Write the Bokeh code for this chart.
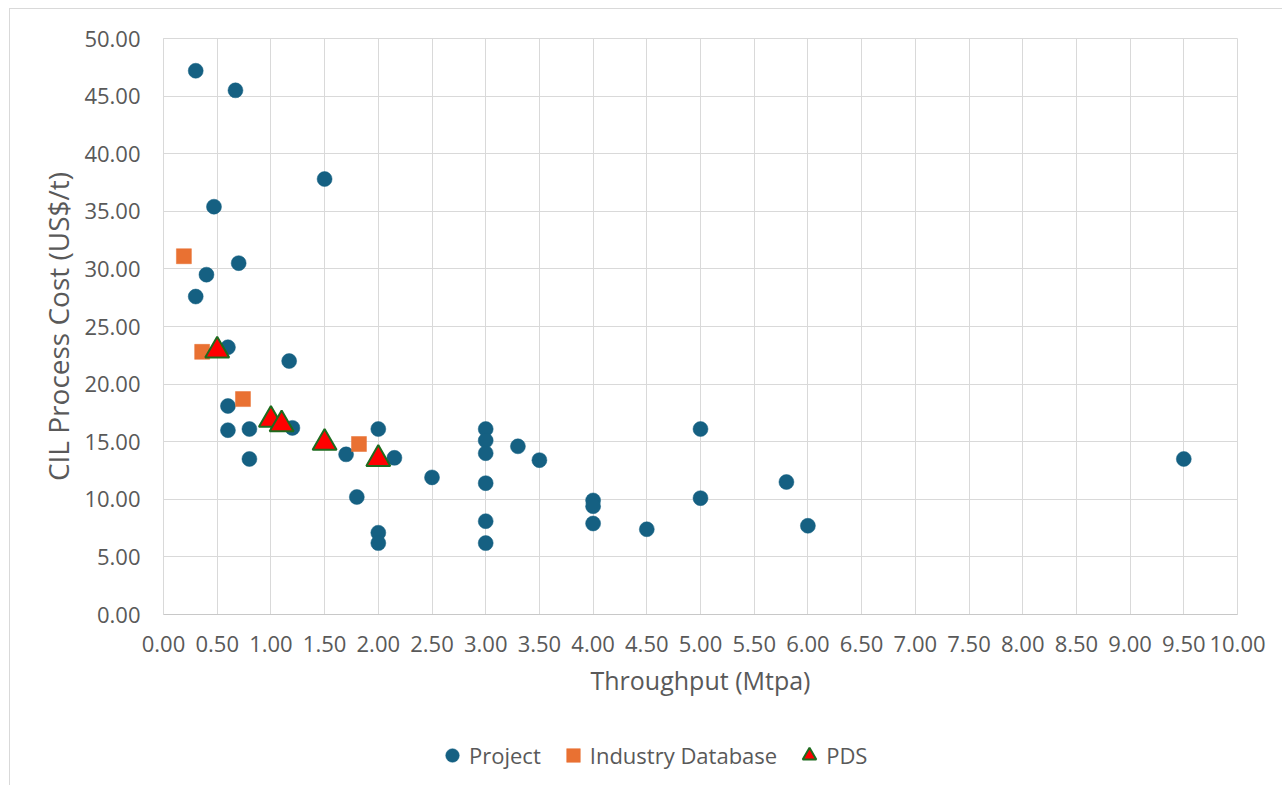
from bokeh.plotting import figure
from bokeh.layouts import column
from bokeh.models import Range1d, FixedTicker, PrintfTickFormatter, Legend, LegendItem
from bokeh.embed import file_html
from bokeh.resources import INLINE

# ---- data ----
project_x = [0.3, 0.67, 1.5, 0.47, 0.7, 0.4, 0.3, 0.6, 1.17, 0.6, 0.6, 0.8, 1.2, 0.8,
             2.0, 1.7, 2.15, 1.8, 2.0, 2.0, 2.5, 3.0, 3.0, 3.0, 3.0, 3.0, 3.0, 3.3,
             3.5, 4.0, 4.0, 4.0, 4.5, 5.0, 5.0, 5.8, 6.0, 9.5]
project_y = [47.2, 45.5, 37.8, 35.4, 30.5, 29.5, 27.6, 23.2, 22.0, 18.1, 16.0, 16.1, 16.2, 13.5,
             16.1, 13.9, 13.6, 10.2, 7.1, 6.2, 11.9, 16.1, 15.1, 14.0, 11.4, 8.1, 6.2, 14.6,
             13.4, 9.9, 9.4, 7.9, 7.4, 16.1, 10.1, 11.5, 7.7, 13.5]
industry_x = [0.19, 0.36, 0.74, 1.82]
industry_y = [31.1, 22.8, 18.7, 14.8]
pds_x = [0.5, 1.0, 1.1, 1.5, 2.0]
pds_y = [22.9, 16.9, 16.5, 14.9, 13.5]

series_names = ["Project", "Industry Database", "PDS"]

x_ticks = [i * 0.5 for i in range(21)]
y_ticks = [i * 5 for i in range(11)]

TEXT = "#595959"
GRID = "#D9D9D9"
FONT = "Open Sans"

STYLES = [
    dict(marker="circle", size=15, fill_color="#156082", line_color="#156082", line_width=0.5),
    dict(marker="square", size=15, fill_color="#E97132", line_color="#E97132", line_width=0.5),
    dict(marker="triangle", size=24, fill_color="#FF0000", line_color="#1E6B1E", line_width=2),
]
SERIES = [(project_x, project_y), (industry_x, industry_y), (pds_x, pds_y)]

W = 1272
p = figure(width=W, height=710, output_backend="svg", toolbar_location=None,
           x_range=Range1d(0, 10), y_range=Range1d(0, 50),
           min_border_left=153, min_border_top=29, min_border_right=45, min_border_bottom=105,
           background_fill_color="white", border_fill_color="white",
           outline_line_color=GRID)

for ax, ticks in ((p.xaxis, x_ticks), (p.yaxis, y_ticks)):
    ax.ticker = FixedTicker(ticks=ticks)
    ax.formatter = PrintfTickFormatter(format="%.2f")
    ax.major_tick_line_color = None
    ax.minor_tick_line_color = None
    ax.major_label_text_color = TEXT
    ax.major_label_text_font = FONT
    ax.major_label_text_font_size = "22px"
    ax.axis_label_text_color = TEXT
    ax.axis_label_text_font = FONT
    ax.axis_label_text_font_style = "normal"

p.xaxis.axis_line_color = "#C8C8C8"
p.yaxis.axis_line_color = GRID
p.xaxis.axis_label = "Throughput (Mtpa)"
p.yaxis.axis_label = "CIL Process Cost (US$/t)"
p.xaxis.axis_label_text_font_size = "25px"
p.yaxis.axis_label_text_font_size = "28px"
p.xaxis.major_label_standoff = 15
p.yaxis.major_label_standoff = 17
p.xaxis.axis_label_standoff = 8
p.yaxis.axis_label_standoff = 4

p.xgrid.ticker = FixedTicker(ticks=x_ticks)
p.ygrid.ticker = FixedTicker(ticks=y_ticks)
p.grid.grid_line_color = GRID
p.grid.grid_line_width = 1

for (xs, ys), st in zip(SERIES, STYLES):
    p.scatter(xs, ys, **st)

# ---- legend strip below the chart (series drawn off-view, only legend visible) ----
lf = figure(width=W, height=66, output_backend="svg", toolbar_location=None,
            x_range=Range1d(0, 10), y_range=Range1d(-2, -1),
            x_axis_type=None, y_axis_type=None,
            min_border_left=0, min_border_right=0, min_border_top=0, min_border_bottom=0,
            background_fill_color="white", border_fill_color="white", outline_line_color=None)
items = []
for name, (xs, ys), st in zip(series_names, SERIES, STYLES):
    r = lf.scatter(xs, ys, **st)
    items.append(LegendItem(label=name, renderers=[r]))
legend = Legend(items=items, orientation="horizontal", location=(272, 13),
                glyph_width=34, glyph_height=34, label_standoff=0, spacing=15,
                padding=0, margin=0, border_line_alpha=0, background_fill_alpha=0,
                label_text_font=FONT, label_text_font_size="22px", label_text_color=TEXT)
lf.add_layout(legend, "center")

layout = column(p, lf, spacing=0)
layout.styles = {"margin-left": "9px", "margin-top": "8px",
                 "border-left": "1px solid #D9D9D9", "border-top": "1px solid #D9D9D9"}

open("out.html", "w").write(file_html(layout, INLINE))
